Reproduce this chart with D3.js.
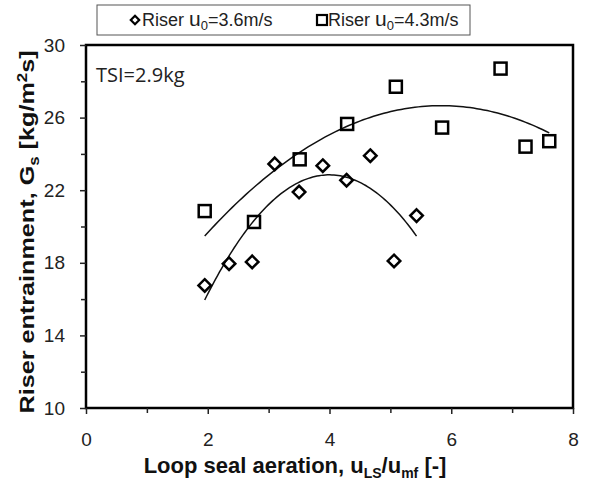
<!DOCTYPE html>
<html>
<head>
<meta charset="utf-8">
<script src="https://cdn.jsdelivr.net/npm/d3@7"></script>
<style>
  body { margin: 0; background: #fff; }
  svg { display: block; font-family: "Liberation Sans", Arial, sans-serif; }
</style>
</head>
<body>
<svg id="chart" width="597" height="489"></svg>
<script>
// data
var diamondX = [1.95, 2.35, 2.73, 3.10, 3.50, 3.89, 4.28, 4.67, 5.06, 5.43];
var diamondY = [16.75, 17.95, 18.05, 23.45, 21.90, 23.35, 22.55, 23.90, 18.10, 20.60];
var squareX = [1.95, 2.76, 3.51, 4.29, 5.09, 5.85, 6.81, 7.22, 7.61];
var squareY = [20.85, 20.25, 23.70, 25.65, 27.70, 25.45, 28.70, 24.40, 24.70];
var xTicks = [0, 2, 4, 6, 8];
var xMinor = [1, 3, 5, 7];
var yTicks = [10, 14, 18, 22, 26, 30];
var yMinor = [12, 16, 20, 24, 28];

var svg = d3.select('#chart');
var M = {left: 86, right: 573, top: 45, bottom: 408};

var x = d3.scaleLinear().domain([0, 8]).range([M.left, M.right]);
var y = d3.scaleLinear().domain([10, 30]).range([M.bottom, M.top]);

// frame
svg.append('rect')
	.attr('x', M.left).attr('y', M.top)
	.attr('width', M.right - M.left).attr('height', M.bottom - M.top)
	.attr('fill', 'none').attr('stroke', '#000').attr('stroke-width', 2.5);

// axes
svg.append('g').attr('transform', 'translate(0,' + M.bottom + ')')
	.call(d3.axisBottom(x).tickValues(xTicks).tickSize(6).tickPadding(19).tickFormat(d3.format('d')));
svg.append('g').attr('transform', 'translate(0,' + M.bottom + ')')
	.call(d3.axisBottom(x).tickValues(xMinor).tickSize(5).tickFormat(''));
svg.append('g').attr('transform', 'translate(' + M.left + ',0)')
	.call(d3.axisLeft(y).tickValues(yTicks).tickSize(6).tickPadding(15).tickFormat(d3.format('d')));
svg.append('g').attr('transform', 'translate(' + M.left + ',0)')
	.call(d3.axisLeft(y).tickValues(yMinor).tickSize(5).tickFormat(''));

svg.selectAll('.domain').remove();
svg.selectAll('.tick line').attr('stroke', '#222').attr('stroke-width', 1.5);
svg.selectAll('.tick text').attr('fill', '#222').style('font-size', '19px');

// quadratic least squares (Excel-style polynomial trendline)
function quadFit(xs, ys) {
	var n = xs.length, s = [0, 0, 0, 0, 0], t = [0, 0, 0];
	for (var i = 0; i < n; i++) {
		var p = 1;
		for (var k = 0; k < 5; k++) { s[k] += p; if (k < 3) t[k] += p * ys[i]; p *= xs[i]; }
	}
	var A = [[s[0], s[1], s[2], t[0]], [s[1], s[2], s[3], t[1]], [s[2], s[3], s[4], t[2]]];
	for (var c = 0; c < 3; c++) {
		for (var r = c + 1; r < 3; r++) {
			var f = A[r][c] / A[c][c];
			for (var j = c; j < 4; j++) A[r][j] -= f * A[c][j];
		}
	}
	var b = [0, 0, 0];
	for (var r2 = 2; r2 >= 0; r2--) {
		var v = A[r2][3];
		for (var j2 = r2 + 1; j2 < 3; j2++) v -= A[r2][j2] * b[j2];
		b[r2] = v / A[r2][r2];
	}
	return function(xv) { return b[0] + b[1] * xv + b[2] * xv * xv; };
}

function drawTrend(xs, ys) {
	var f = quadFit(xs, ys);
	var x0 = d3.min(xs), x1 = d3.max(xs);
	var pts = d3.range(0, 101).map(function(i) { var xv = x0 + (x1 - x0) * i / 100; return [xv, f(xv)]; });
	svg.append('path')
		.attr('d', d3.line().x(function(d) { return x(d[0]); }).y(function(d) { return y(d[1]); })(pts))
		.attr('fill', 'none').attr('stroke', '#111').attr('stroke-width', 1.5);
}
drawTrend(diamondX, diamondY);
drawTrend(squareX, squareY);

// markers
var diamond = d3.symbol().type(d3.symbolDiamond2).size(100);
svg.append('g').selectAll('path').data(diamondX).join('path')
	.attr('transform', function(d, i) { return 'translate(' + x(d) + ',' + y(diamondY[i]) + ')'; })
	.attr('d', diamond)
	.attr('fill', 'none').attr('stroke', '#000').attr('stroke-width', 2.5);
svg.append('g').selectAll('rect').data(squareX).join('rect')
	.attr('x', function(d) { return x(d) - 6; })
	.attr('y', function(d, i) { return y(squareY[i]) - 6; })
	.attr('width', 12).attr('height', 12)
	.attr('fill', 'none').attr('stroke', '#000').attr('stroke-width', 2.5);

// annotation
svg.append('text').attr('x', 96).attr('y', 82)
	.style('font-family', '"Open Sans", sans-serif').style('font-size', '20px').attr('fill', '#222')
	.text('TSI=2.9kg');

// legend
svg.append('rect').attr('x', 97).attr('y', 5).attr('width', 373).attr('height', 30)
	.attr('fill', '#fff').attr('stroke', '#555').attr('stroke-width', 1);
svg.append('path').attr('transform', 'translate(135,20)').attr('d', d3.symbol().type(d3.symbolDiamond2).size(45))
	.attr('fill', 'none').attr('stroke', '#000').attr('stroke-width', 2.2);
var l1 = svg.append('text').attr('x', 142).attr('y', 26).style('font-size', '18px').attr('fill', '#222');
l1.append('tspan').text('Riser ');
l1.append('tspan').style('font-size', '21px').text('u');
l1.append('tspan').attr('dy', 4).style('font-size', '13px').text('0');
l1.append('tspan').attr('dy', -4).text('=3.6m/s');
svg.append('rect').attr('x', 317).attr('y', 15).attr('width', 10).attr('height', 10)
	.attr('fill', 'none').attr('stroke', '#000').attr('stroke-width', 2.2);
var l2 = svg.append('text').attr('x', 328).attr('y', 26).style('font-size', '18px').attr('fill', '#222');
l2.append('tspan').text('Riser ');
l2.append('tspan').style('font-size', '21px').text('u');
l2.append('tspan').attr('dy', 4).style('font-size', '13px').text('0');
l2.append('tspan').attr('dy', -4).text('=4.3m/s');

// axis titles
var xt = svg.append('text').attr('x', 295).attr('y', 473).attr('text-anchor', 'middle')
	.style('font-size', '22px').style('font-weight', 'bold').attr('fill', '#111');
xt.append('tspan').text('Loop seal aeration, u');
xt.append('tspan').attr('dy', 5).style('font-size', '14px').text('LS');
xt.append('tspan').attr('dy', -5).text('/u');
xt.append('tspan').attr('dy', 5).style('font-size', '14px').text('mf');
xt.append('tspan').attr('dy', -5).text(' [-]');

var yt = svg.append('text').attr('transform', 'translate(34,232) scale(1,1.2) rotate(-90)')
	.attr('text-anchor', 'middle')
	.style('font-size', '21px').style('font-weight', 'bold').attr('fill', '#111');
yt.append('tspan').text('Riser entrainment, G');
yt.append('tspan').attr('dy', 5).style('font-size', '14px').text('s');
yt.append('tspan').attr('dy', -5).text(' [kg/m');
yt.append('tspan').attr('dy', -7).style('font-size', '14px').text('2');
yt.append('tspan').attr('dy', 7).text('s]');
</script>
</body>
</html>
